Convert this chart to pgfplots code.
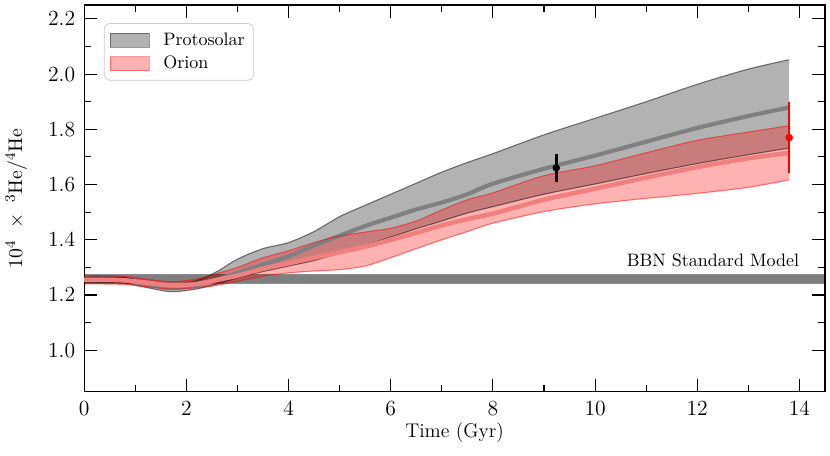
\documentclass[border=0pt]{standalone}
\usepackage{pgfplots}
\usepackage{pgfplotstable}
\pgfplotsset{compat=1.18}
\usepgfplotslibrary{fillbetween}
\definecolor{lightcoral}{HTML}{F08080}

\pgfplotstableread{
t    pu     pm     pl     ou     om     ol
0.0  1.265  1.255  1.245  1.270  1.255  1.240
0.4  1.265  1.255  1.245  1.270  1.255  1.240
0.8  1.263  1.253  1.243  1.268  1.253  1.238
1.2  1.248  1.240  1.228  1.258  1.245  1.230
1.7  1.238  1.225  1.212  1.248  1.235  1.222
2.2  1.252  1.235  1.222  1.258  1.240  1.226
2.6  1.285  1.255  1.240  1.278  1.255  1.235
3.0  1.330  1.280  1.262  1.300  1.270  1.250
3.5  1.368  1.310  1.285  1.335  1.295  1.268
4.0  1.390  1.340  1.305  1.360  1.315  1.280
4.5  1.430  1.380  1.325  1.390  1.335  1.287
5.0  1.484  1.415  1.352  1.413  1.355  1.292
5.5  1.525  1.450  1.380  1.428  1.375  1.305
6.0  1.565  1.480  1.410  1.442  1.400  1.335
6.5  1.605  1.510  1.440  1.468  1.425  1.368
7.0  1.645  1.535  1.468  1.508  1.452  1.400
7.5  1.680  1.565  1.497  1.545  1.475  1.430
8.0  1.712  1.603  1.520  1.570  1.495  1.460
9.0  1.780  1.657  1.565  1.632  1.545  1.502
10.0 1.840  1.705  1.602  1.668  1.585  1.530
11.0 1.900  1.755  1.640  1.715  1.625  1.550
12.0 1.963  1.805  1.676  1.760  1.663  1.568
13.0 2.018  1.848  1.708  1.790  1.695  1.590
13.8 2.052  1.879  1.732  1.813  1.715  1.617
}\evol

\pgfplotstableread{
x     lo     hi
-1    1.242  1.273
16    1.242  1.273
}\bbn

\begin{document}
\begin{tikzpicture}
\begin{axis}[
  scale only axis,
  width=411.5pt, height=214.8pt,
  xmin=0, xmax=14.5,
  ymin=0.85, ymax=2.25,
  xtick={0,2,...,14},
  ytick={1.0,1.2,1.4,1.6,1.8,2.0,2.2},
  minor x tick num=1,
  minor y tick num=1,
  xtick pos=both, ytick pos=both,
  tick align=inside,
  major tick length=7pt,
  minor tick length=3.7pt,
  tick style={black, line width=0.6pt},
  axis line style={black, line width=0.8pt},
  yticklabel style={/pgf/number format/fixed, /pgf/number format/fixed zerofill, /pgf/number format/precision=1},
  tick label style={font=\fontsize{12}{14}\selectfont},
  xticklabel style={yshift=-2pt},
  yticklabel style={xshift=-1.5pt},
  label style={font=\fontsize{11}{13}\selectfont},
  xlabel={Time (Gyr)},
  ylabel={$10^4\ \times\ {}^{3}\mathrm{He}/{}^{4}\mathrm{He}$},
  xlabel style={at={(axis description cs:0.5,-0.107)}, anchor=center},
  ylabel style={at={(axis description cs:-0.0916,0.5)}, anchor=center},
  legend style={at={(axis description cs:0.0265,0.953)}, anchor=north west,
    draw=black!20, rounded corners=3pt, fill=white, fill opacity=0.8, text opacity=1,
    font=\fontsize{10}{12}\selectfont, inner xsep=3pt, inner ysep=3pt,
    row sep=0.5pt},
  legend cell align=left,
  legend image code/.code={\draw[#1, sharp corners] (0pt,-3.9pt) rectangle (21.7pt,3.9pt); \path[draw=none, fill=none] (0pt,0pt) -- (27.5pt,0pt);},
]
% legend entries
\addlegendimage{fill=black, fill opacity=0.3, draw=black, draw opacity=0.4, line width=0.6pt}
\addlegendentry{Protosolar}
\addlegendimage{fill=red, fill opacity=0.3, draw=red, draw opacity=0.4, line width=0.6pt}
\addlegendentry{Orion}

% BBN band
\addplot[name path=blo, draw=black, draw opacity=0.45, line width=0.7pt, forget plot] table[x=x, y=lo] {\bbn};
\addplot[name path=bhi, draw=black, draw opacity=0.45, line width=0.7pt, forget plot] table[x=x, y=hi] {\bbn};
\addplot[fill=black, fill opacity=0.5, draw=none, forget plot] fill between[of=bhi and blo];

% Protosolar band
\addplot[name path=pu, smooth, draw=black, draw opacity=0.5, line width=0.6pt, forget plot] table[x=t, y=pu] {\evol};
\addplot[name path=pl, smooth, draw=black, draw opacity=0.5, line width=0.6pt, forget plot] table[x=t, y=pl] {\evol};
\addplot[fill=black, fill opacity=0.3, draw=none, forget plot] fill between[of=pu and pl];
\addplot[smooth, draw=gray, line width=2.3pt, forget plot] table[x=t, y=pm] {\evol};

% Orion band
\addplot[name path=ou, smooth, draw=red, draw opacity=0.5, line width=0.6pt, forget plot] table[x=t, y=ou] {\evol};
\addplot[name path=ol, smooth, draw=red, draw opacity=0.5, line width=0.6pt, forget plot] table[x=t, y=ol] {\evol};
\addplot[smooth, draw=lightcoral, line width=2.5pt, forget plot] table[x=t, y=om] {\evol};
\addplot[fill=red, fill opacity=0.3, draw=none, forget plot] fill between[of=ou and ol];

% data points
\addplot[only marks, mark=*, mark size=1.85pt, black, forget plot,
  error bars/.cd, y dir=both, y explicit, error mark=none,
  error bar style={line width=1.4pt, black}]
  coordinates {(9.24,1.66) +- (0,0.05)};
\addplot[only marks, mark=*, mark size=1.85pt, red, forget plot,
  error bars/.cd, y dir=both, y explicit, error mark=none,
  error bar style={line width=1.4pt, red}]
  coordinates {(13.8,1.77) +- (0,0.13)};

\node[anchor=base east, inner sep=0pt, font=\fontsize{10}{12}\selectfont] at (axis cs:14,1.305) {BBN Standard Model};
\end{axis}
\pgfresetboundingbox
\path (current axis.south west) ++(-46.8pt,-35.2pt) coordinate (bbA);
\path (current axis.north east) ++(2.8pt,2.8pt) coordinate (bbB);
\useasboundingbox (bbA) rectangle (bbB);
\end{tikzpicture}
\end{document}
